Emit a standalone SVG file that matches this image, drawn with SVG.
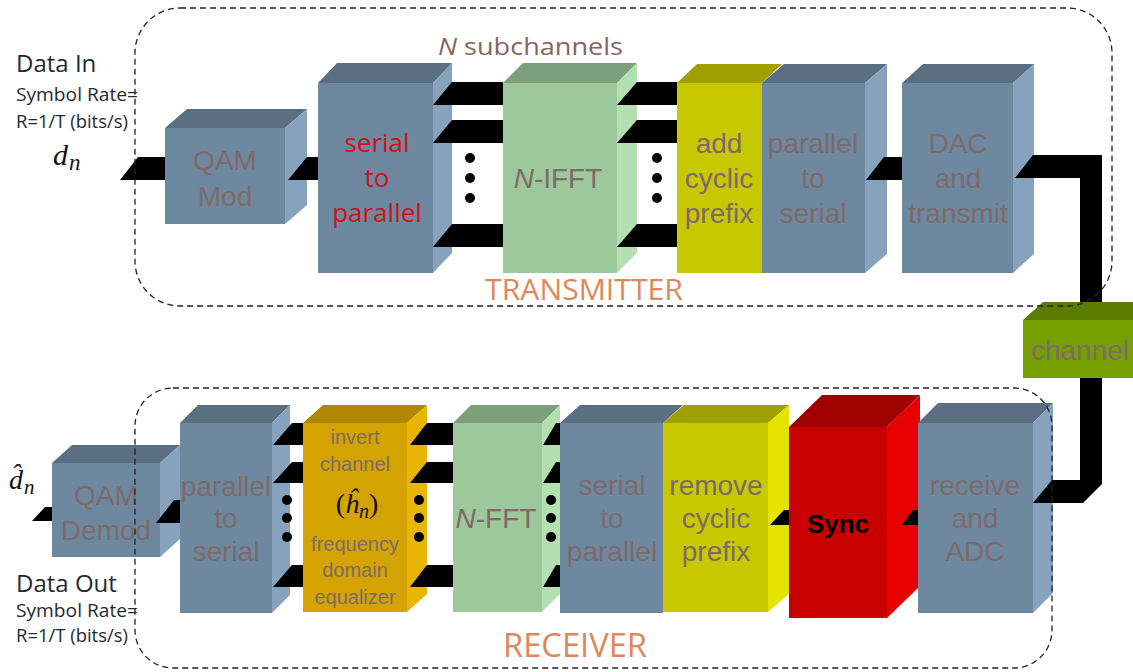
<svg xmlns="http://www.w3.org/2000/svg" width="1133" height="672" viewBox="0 0 1133 672">
  <style>
    .slate .f{fill:#6e889f}.slate .t{fill:#5a6f82}.slate .s{fill:#86a2bd}
    .green .f{fill:#9dc89b}.green .t{fill:#7e9f7c}.green .s{fill:#b4dfb1}
    .yellow .f{fill:#c8c800}.yellow .t{fill:#a0a000}.yellow .s{fill:#e4e400}
    .gold .f{fill:#d5a300}.gold .t{fill:#b08700}.gold .s{fill:#e8b600}
    .red .f{fill:#c80000}.red .t{fill:#a00000}.red .s{fill:#e60000}
    .olive .f{fill:#76a000}.olive .t{fill:#5a7d00}
    .lbl{font-family:"Liberation Sans",Arial,sans-serif;fill:#7d6a6a;text-anchor:middle;font-size:28px}
    .small{font-size:20px}
    .redtxt{font-family:"Open Sans","Liberation Sans",sans-serif;fill:#d0101a;text-anchor:middle;font-size:26px}
    .bar{fill:#000}
    .dot{fill:#000}
    .dash{fill:none;stroke:#222;stroke-width:1.3;stroke-dasharray:6 4}
    .note{font-family:"Open Sans","Liberation Sans",sans-serif;fill:#1e2a33}
    .math{font-family:"Liberation Serif","Times New Roman",serif;font-style:italic;fill:#111}
    .title{font-family:"Open Sans","Liberation Sans",sans-serif;fill:#e0885a}
  </style>

  <!-- transmitter chain -->
  <g id="qam-mod" class="slate">
    <polygon class="t" points="165,128 187,109 307,109 285,128"/>
    <polygon class="s" points="285,128 307,109 307,205 285,224"/>
    <rect class="f" x="165" y="128" width="120" height="96"/>
    <text class="lbl" x="225" y="170">QAM</text>
    <text class="lbl" x="225" y="206">Mod</text>
  </g>
  <g id="tx-serial-to-parallel" class="slate">
    <polygon class="t" points="318,83 337,63 452,63 433,83"/>
    <polygon class="s" points="433,83 452,63 452,253 433,273"/>
    <rect class="f" x="318" y="83" width="115" height="190"/>
    <text class="redtxt" x="377" y="152">serial</text>
    <text class="redtxt" x="377" y="187">to</text>
    <text class="redtxt" x="377" y="222">parallel</text>
  </g>
  <g id="n-ifft" class="green">
    <polygon class="t" points="503,83 523,63 637,63 617,83"/>
    <polygon class="s" points="617,83 637,63 637,253 617,273"/>
    <rect class="f" x="503" y="83" width="114" height="190"/>
    <text class="lbl" x="558" y="188" font-size="27"><tspan font-style="italic">N</tspan>-IFFT</text>
  </g>
  <g id="add-cyclic-prefix" class="yellow">
    <polygon class="t" points="677,83 697,64 782,64 762,83"/>
    <rect class="f" x="677" y="83" width="85" height="190"/>
    <text class="lbl" x="719" y="153">add</text>
    <text class="lbl" x="719" y="188">cyclic</text>
    <text class="lbl" x="719" y="223">prefix</text>
  </g>
  <g id="tx-parallel-to-serial" class="slate">
    <polygon class="t" points="762,83 784,64 887,64 865,83"/>
    <polygon class="s" points="865,83 887,64 887,254 865,273"/>
    <rect class="f" x="762" y="83" width="103" height="190"/>
    <text class="lbl" x="813" y="153">parallel</text>
    <text class="lbl" x="813" y="188">to</text>
    <text class="lbl" x="813" y="223">serial</text>
  </g>
  <g id="dac-transmit" class="slate">
    <polygon class="t" points="902,83 923,64 1034,64 1013,83"/>
    <polygon class="s" points="1013,83 1034,64 1034,254 1013,273"/>
    <rect class="f" x="902" y="83" width="111" height="190"/>
    <text class="lbl" x="958" y="153">DAC</text>
    <text class="lbl" x="958" y="188">and</text>
    <text class="lbl" x="958" y="223">transmit</text>
  </g>

  <g id="channel" class="olive">
    <polygon class="t" points="1023,320 1043,302 1153,302 1133,320"/>
    <rect class="f" x="1023" y="320" width="130" height="58"/>
    <text class="lbl" x="1080" y="360" font-size="27">channel</text>
  </g>

  <!-- receiver chain -->
  <g id="qam-demod" class="slate">
    <polygon class="t" points="52,463 72,445 180,445 160,463"/>
    <polygon class="s" points="160,463 180,445 180,539 160,557"/>
    <rect class="f" x="52" y="463" width="108" height="94"/>
    <text class="lbl" x="106" y="505" font-size="27">QAM</text>
    <text class="lbl" x="106" y="540" font-size="27">Demod</text>
  </g>
  <g id="rx-parallel-to-serial" class="slate">
    <polygon class="t" points="180,423 198,405 290,405 272,423"/>
    <polygon class="s" points="272,423 290,405 290,595 272,613"/>
    <rect class="f" x="180" y="423" width="92" height="190"/>
    <text class="lbl" x="226" y="496">parallel</text>
    <text class="lbl" x="226" y="528">to</text>
    <text class="lbl" x="226" y="561">serial</text>
  </g>
  <g id="equalizer" class="gold">
    <polygon class="t" points="303,423 323,405 427,405 407,423"/>
    <polygon class="s" points="407,423 427,405 427,594 407,612"/>
    <rect class="f" x="303" y="423" width="104" height="189"/>
    <text class="lbl small" x="355" y="444">invert</text>
    <text class="lbl small" x="355" y="471">channel</text>
    <text class="math" x="357" y="513" font-size="28" text-anchor="middle"><tspan font-style="normal">(</tspan>ĥ<tspan font-size="20" dy="5">n</tspan><tspan font-style="normal" font-size="28" dy="-5">)</tspan></text>
    <text class="lbl small" x="355" y="551">frequency</text>
    <text class="lbl small" x="355" y="577">domain</text>
    <text class="lbl small" x="355" y="604">equalizer</text>
  </g>
  <g id="n-fft" class="green">
    <polygon class="t" points="453,423 471,405 560,405 542,423"/>
    <polygon class="s" points="542,423 560,405 560,594 542,612"/>
    <rect class="f" x="453" y="423" width="89" height="189"/>
    <text class="lbl" x="496" y="528" font-size="27"><tspan font-style="italic">N</tspan>-FFT</text>
  </g>
  <g id="rx-serial-to-parallel" class="slate">
    <polygon class="t" points="560,423 580,405 683,405 663,423"/>
    <rect class="f" x="560" y="423" width="103" height="190"/>
    <text class="lbl" x="612" y="495">serial</text>
    <text class="lbl" x="612" y="528">to</text>
    <text class="lbl" x="612" y="561">parallel</text>
  </g>
  <g id="remove-cyclic-prefix" class="yellow">
    <polygon class="t" points="663,423 684,405 789,405 768,423"/>
    <polygon class="s" points="768,423 789,405 789,594 768,612"/>
    <rect class="f" x="663" y="423" width="105" height="189"/>
    <text class="lbl" x="716" y="495">remove</text>
    <text class="lbl" x="716" y="528">cyclic</text>
    <text class="lbl" x="716" y="561">prefix</text>
  </g>
  <g id="sync" class="red">
    <polygon class="t" points="789,427 822,395 920,395 887,427"/>
    <polygon class="s" points="887,427 920,395 920,586 887,618"/>
    <rect class="f" x="789" y="427" width="98" height="191"/>
    <text x="838" y="533" font-family="Liberation Sans, Arial, sans-serif" font-weight="bold" font-size="26" text-anchor="middle" fill="#000">Sync</text>
  </g>
  <g id="receive-adc" class="slate">
    <polygon class="t" points="918,423 938,403 1053,403 1033,423"/>
    <polygon class="s" points="1033,423 1053,403 1053,593 1033,613"/>
    <rect class="f" x="918" y="423" width="115" height="190"/>
    <text class="lbl" x="975" y="495">receive</text>
    <text class="lbl" x="975" y="528">and</text>
    <text class="lbl" x="975" y="561">ADC</text>
  </g>

  <!-- bus bars between blocks -->
  <g id="connectors">
    <polygon class="bar" points="138,157 165,157 165,180 120,180"/>
    <polygon class="bar" points="307,157 318,157 318,180 288,180"/>
    <polygon class="bar" points="452,82 503,82 503,105 433,105"/>
    <polygon class="bar" points="452,120 503,120 503,143 433,143"/>
    <polygon class="bar" points="452,224 503,224 503,247 433,247"/>
    <polygon class="bar" points="637,82 677,82 677,105 617,105"/>
    <polygon class="bar" points="637,120 677,120 677,143 617,143"/>
    <polygon class="bar" points="637,224 677,224 677,247 617,247"/>
    <polygon class="bar" points="884,157 902,157 902,180 866,180"/>
    <polygon class="bar" points="1033,155 1102,155 1102,302 1080,302 1080,178 1015,178"/>
    <polygon class="bar" points="1080,378 1102,378 1102,484 1083,503 1033,503 1052,480 1080,480"/>

    <polygon class="bar" points="45,507 52,507 52,521 32,521"/>
    <polygon class="bar" points="174,500 180,500 180,523 156,523"/>
    <polygon class="bar" points="292,423 303,423 303,445 273,445"/>
    <polygon class="bar" points="292,462 303,462 303,483 273,483"/>
    <polygon class="bar" points="292,565 303,565 303,587 273,587"/>
    <polygon class="bar" points="427,423 453,423 453,445 410,445"/>
    <polygon class="bar" points="427,462 453,462 453,483 410,483"/>
    <polygon class="bar" points="427,565 453,565 453,587 410,587"/>
    <polygon class="bar" points="556,423 560,423 560,445 543,445"/>
    <polygon class="bar" points="556,462 560,462 560,483 543,483"/>
    <polygon class="bar" points="556,565 560,565 560,587 543,587"/>
    <polygon class="bar" points="784,510 789,510 789,525 770,525"/>
    <polygon class="bar" points="913,510 918,510 918,525 902,525"/>

    <circle class="dot" cx="470" cy="158" r="5"/><circle class="dot" cx="470" cy="178" r="5"/><circle class="dot" cx="470" cy="198" r="5"/>
    <circle class="dot" cx="657" cy="158" r="5"/><circle class="dot" cx="657" cy="178" r="5"/><circle class="dot" cx="657" cy="198" r="5"/>
    <circle class="dot" cx="287" cy="500" r="5"/><circle class="dot" cx="287" cy="518" r="5"/><circle class="dot" cx="287" cy="537" r="5"/>
    <circle class="dot" cx="419" cy="500" r="5"/><circle class="dot" cx="419" cy="518" r="5"/><circle class="dot" cx="419" cy="537" r="5"/>
    <circle class="dot" cx="551" cy="500" r="5"/><circle class="dot" cx="551" cy="518" r="5"/><circle class="dot" cx="551" cy="537" r="5"/>
  </g>

  <!-- side notes -->
  <g id="input-notes">
    <text class="note" x="16" y="72" font-size="24">Data In</text>
    <text class="note" x="16" y="101" font-size="19" textLength="122" lengthAdjust="spacingAndGlyphs">Symbol Rate=</text>
    <text class="note" x="16" y="128" font-size="19" textLength="112" lengthAdjust="spacingAndGlyphs">R=1/T (bits/s)</text>
    <text class="math" x="53" y="165" font-size="30">d<tspan font-size="23" dx="1" dy="5">n</tspan></text>
  </g>
  <g id="output-notes">
    <text class="note" x="16" y="592" font-size="24">Data Out</text>
    <text class="note" x="16" y="617" font-size="19" textLength="122" lengthAdjust="spacingAndGlyphs">Symbol Rate=</text>
    <text class="note" x="16" y="642" font-size="19" textLength="112" lengthAdjust="spacingAndGlyphs">R=1/T (bits/s)</text>
    <text class="math" x="9" y="489" font-size="28">d&#x302;<tspan font-size="21" dx="1" dy="5">n</tspan></text>
  </g>
  <text x="438" y="55" font-family="Open Sans, Liberation Sans, sans-serif" font-size="24" fill="#86665c" textLength="185" lengthAdjust="spacingAndGlyphs"><tspan font-style="italic">N</tspan> subchannels</text>

  <!-- section frames -->
  <g id="transmitter">
    <rect class="dash" x="135" y="8" width="977" height="298" rx="45"/>
    <text class="title" x="485" y="300" font-size="30" textLength="198" lengthAdjust="spacingAndGlyphs">TRANSMITTER</text>
  </g>
  <g id="receiver">
    <rect class="dash" x="135" y="388" width="917" height="280" rx="38"/>
    <text class="title" x="503" y="657" font-size="32" textLength="144" lengthAdjust="spacingAndGlyphs">RECEIVER</text>
  </g>
</svg>
